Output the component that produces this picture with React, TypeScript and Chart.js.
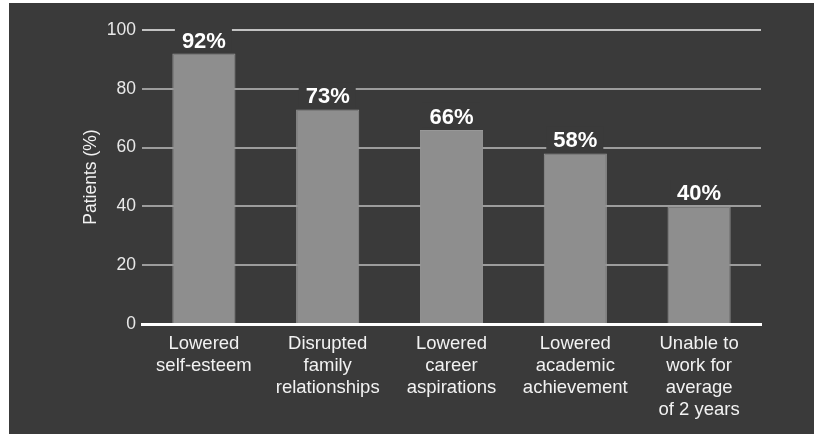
import React, { useEffect, useRef } from "react";
import { Chart, registerables } from "chart.js";

Chart.register(...registerables);

const categories: string[][] = [
  ["Lowered", "self-esteem"],
  ["Disrupted", "family", "relationships"],
  ["Lowered", "career", "aspirations"],
  ["Lowered", "academic", "achievement"],
  ["Unable to", "work for", "average", "of 2 years"],
];
const patientsPct: number[] = [92, 73, 66, 58, 40];
const yTicks: number[] = [0, 20, 40, 60, 80, 100];

const BG = "#3a3a3a";
const FONT = "'Liberation Sans', Arial, Helvetica, sans-serif";

const valueLabels = {
  id: "valueLabels",
  afterDatasetsDraw(chart: any) {
    const { ctx } = chart;
    const meta = chart.getDatasetMeta(0);
    ctx.save();
    ctx.font = `bold 22px ${FONT}`;
    ctx.textAlign = "center";
    ctx.textBaseline = "alphabetic";
    meta.data.forEach((bar: any, i: number) => {
      const text = `${patientsPct[i]}%`;
      const w = ctx.measureText(text).width;
      ctx.fillStyle = BG;
      ctx.fillRect(bar.x - w / 2 - 7, bar.y - 27, w + 13, 25);
      ctx.fillStyle = "#ffffff";
      ctx.fillText(text, bar.x, bar.y - 6);
    });
    ctx.restore();
  },
};

export default function App() {
  const ref = useRef<HTMLCanvasElement>(null);
  useEffect(() => {
    document.body.style.margin = "0";
    const chart = new Chart(ref.current!, {
      type: "bar",
      data: {
        labels: categories,
        datasets: [
          {
            data: patientsPct,
            backgroundColor: "#8e8e8e",
            borderColor: "#989898",
            borderWidth: 1,
            barPercentage: 0.51,
            categoryPercentage: 1,
          },
        ],
      },
      options: {
        animation: false,
        responsive: false,
        maintainAspectRatio: false,
        layout: { padding: { left: 0, right: 53, top: 27, bottom: 0 } },
        plugins: { legend: { display: false }, tooltip: { enabled: false } },
        scales: {
          x: {
            grid: { display: false, drawTicks: false },
            border: { display: true, color: "#ffffff", width: 3 },
            ticks: {
              color: "#f2f2f2",
              font: { family: FONT, size: 18.5, lineHeight: 1.19 },
              padding: 9,
              maxRotation: 0,
              autoSkip: false,
            },
            afterFit(scale: any) {
              scale.height = 110;
            },
          },
          y: {
            min: 0,
            max: 100,
            afterBuildTicks(scale: any) {
              scale.ticks = yTicks.map((v) => ({ value: v }));
            },
            grid: {
              drawTicks: false,
              lineWidth: 2,
              color: (c: any) =>
                c.tick && c.tick.value === 0
                  ? "rgba(0,0,0,0)"
                  : c.tick && c.tick.value === 100
                  ? "#c2c2c2"
                  : "#9c9c9c",
            },
            border: { display: false },
            ticks: {
              color: "#e8e8e8",
              font: { family: FONT, size: 17.5 },
              padding: 6,
            },
            title: {
              display: true,
              text: "Patients (%)",
              color: "#f2f2f2",
              font: { family: FONT, size: 17.5 },
              padding: { top: 72, bottom: 0 },
            },
            afterFit(scale: any) {
              scale.width = 133;
            },
          },
        },
      },
      plugins: [valueLabels],
    });
    return () => chart.destroy();
  }, []);
  return (
    <div style={{ position: "relative", width: 814, height: 434, background: "#ffffff" }}>
      <div style={{ position: "absolute", left: 9, top: 3, width: 805, height: 431, background: BG }}>
        <canvas ref={ref} width={805} height={431} style={{ display: "block" }} />
      </div>
    </div>
  );
}
